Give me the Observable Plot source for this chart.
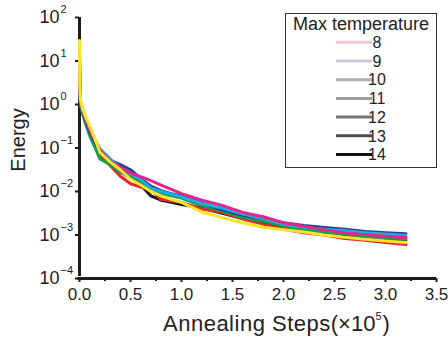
<!DOCTYPE html>
<html>
<head>
<meta charset="utf-8">
<script src="https://cdn.jsdelivr.net/npm/d3@7"></script>
<script src="https://cdn.jsdelivr.net/npm/@observablehq/plot@0.6"></script>
<style>
  html, body { margin: 0; padding: 0; background: #fff; }
  #chart { width: 448px; height: 341px; }
</style>
</head>
<body>
<div id="chart"></div>
<script>
// Annealing steps (×10^5)
const steps = [0, 0.002, 0.01, 0.03, 0.06, 0.1, 0.15, 0.2, 0.3, 0.4, 0.5, 0.6, 0.7, 0.8, 0.9, 1.0, 1.2, 1.4, 1.6, 1.8, 2.0, 2.2, 2.4, 2.6, 2.8, 3.0, 3.2];

const seriesNames = ["8", "9", "10", "11", "12", "13", "14"];
const lineColors = ["#e6248c", "#2e3a92", "#19aee6", "#12a04e", "#1a1a1a", "#e8262b", "#fbe62a"];
const legendColors = ["#f2c6dc", "#c9ced8", "#abb0bc", "#9a9ea5", "#72767a", "#4a5150", "#111111"];
const drawOrder = ["12", "13", "11", "9", "10", "8", "14"];

const energy8  = [20, 2.82, 1.12, 0.759, 0.479, 0.263, 0.151, 0.0891, 0.0501, 0.0355, 0.0263, 0.0219, 0.0178, 0.0141, 0.0112, 0.00891, 0.00631, 0.00479, 0.00331, 0.00263, 0.00191, 0.00158, 0.00132, 0.00112, 0.00102, 0.000933, 0.000871];
const energy9  = [15.8, 2.51, 1.05, 0.708, 0.447, 0.240, 0.141, 0.0832, 0.0525, 0.0417, 0.0316, 0.0200, 0.0132, 0.0105, 0.00891, 0.00794, 0.00537, 0.00380, 0.00282, 0.00240, 0.00191, 0.00166, 0.00148, 0.00135, 0.00120, 0.00112, 0.00107];
const energy10 = [17.8, 2.63, 1.20, 0.794, 0.501, 0.282, 0.158, 0.0955, 0.0562, 0.0355, 0.0251, 0.0191, 0.0120, 0.0100, 0.00871, 0.00759, 0.00525, 0.00417, 0.00302, 0.00240, 0.00178, 0.00151, 0.00135, 0.00126, 0.00112, 0.00105, 0.000977];
const energy11 = [12.6, 2.24, 0.955, 0.603, 0.355, 0.191, 0.105, 0.0562, 0.0417, 0.0282, 0.0224, 0.0166, 0.0112, 0.00891, 0.00794, 0.00708, 0.00468, 0.00355, 0.00251, 0.00209, 0.00158, 0.00132, 0.00117, 0.00105, 0.000933, 0.000851, 0.000794];
const energy12 = [15.8, 2.40, 1.00, 0.661, 0.398, 0.224, 0.126, 0.0708, 0.0447, 0.0282, 0.0209, 0.0141, 0.00794, 0.00631, 0.00562, 0.00501, 0.00417, 0.00316, 0.00240, 0.00191, 0.00151, 0.00126, 0.00112, 0.00100, 0.000891, 0.000813, 0.000759];
const energy13 = [20, 2.51, 1.05, 0.661, 0.417, 0.240, 0.126, 0.0661, 0.0398, 0.0224, 0.0151, 0.0126, 0.0112, 0.00661, 0.00603, 0.00562, 0.00398, 0.00331, 0.00234, 0.00178, 0.00135, 0.00112, 0.00100, 0.000832, 0.000759, 0.000676, 0.000603];
const energy14 = [29.5, 3.16, 1.26, 0.794, 0.525, 0.316, 0.166, 0.0794, 0.0479, 0.0316, 0.0191, 0.0141, 0.0100, 0.00794, 0.00661, 0.00562, 0.00339, 0.00251, 0.00191, 0.00151, 0.00132, 0.00117, 0.00100, 0.000891, 0.000794, 0.000724, 0.000676];

const xTicks = [0, 0.5, 1.0, 1.5, 2.0, 2.5, 3.0, 3.5];
const xMinorTicks = [0.25, 0.75, 1.25, 1.75, 2.25, 2.75, 3.25];
const yTicks = [1e-4, 1e-3, 1e-2, 1e-1, 1e0, 1e1, 1e2];
const yExponents = ["−4", "−3", "−2", "−1", "0", "1", "2"];

const seriesValues = {"8": energy8, "9": energy9, "10": energy10, "11": energy11, "12": energy12, "13": energy13, "14": energy14};
const rows = [];
for (const name of drawOrder) {
  seriesValues[name].forEach((e, i) => rows.push({series: name, step: steps[i], energy: e}));
}

const font = "'Liberation Sans', Arial, Helvetica, sans-serif";
const ink = "#1c1c1c";

const chart = Plot.plot({
  width: 448,
  height: 341,
  marginLeft: 79,
  marginRight: 12,
  marginTop: 17,
  marginBottom: 63,
  style: {fontFamily: font, color: ink, background: "#fff"},
  x: {domain: [0, 3.5]},
  y: {type: "log", domain: [1e-4, 1e2]},
  color: {domain: seriesNames, range: lineColors},
  marks: [
    Plot.ruleX([0], {stroke: ink, strokeWidth: 3, y1: 1e-4, y2: 1e2, insetTop: -2}),
    Plot.ruleY([1e-4], {stroke: ink, strokeWidth: 3, insetLeft: -1.5}),
    Plot.axisX(xTicks, {tickSize: 4, tickPadding: 5, strokeWidth: 2, stroke: ink, tickFormat: d3.format(".1f"), fontSize: 17, fill: "#222", label: null}),
    Plot.axisX(xMinorTicks, {tickSize: 3, strokeWidth: 2, stroke: ink, tickFormat: () => "", label: null}),
    Plot.axisY(yTicks, {tickSize: 4, strokeWidth: 2, stroke: ink, tickFormat: () => "", label: null}),
    Plot.text(yTicks, {y: d => d, frameAnchor: "left", dx: -20, textAnchor: "end", text: () => "10", fontSize: 18, fill: "#222"}),
    Plot.text(yTicks, {y: d => d, frameAnchor: "left", dx: -19, dy: -8, textAnchor: "start", text: (d, i) => yExponents[i], fontSize: 11, fill: "#222"}),
    Plot.line(rows, {x: "step", y: "energy", z: "series", stroke: "series", strokeWidth: 3, strokeLinejoin: "round", strokeLinecap: "round"})
  ]
});

document.getElementById("chart").appendChild(chart);

const svg = d3.select(chart);

// Y axis title
svg.append("text")
  .attr("transform", "translate(25,140) rotate(-90)")
  .attr("text-anchor", "middle")
  .attr("font-family", font)
  .attr("font-size", 20)
  .attr("fill", "#222")
  .text("Energy");

// X axis title
const xt = svg.append("text")
  .attr("x", 163)
  .attr("y", 331)
  .attr("text-anchor", "start")
  .attr("font-family", font)
  .attr("font-size", 22)
  .attr("fill", "#222");
xt.append("tspan").attr("letter-spacing", "0.5px").text("Annealing Steps");
xt.append("tspan").text("(×10");
xt.append("tspan").attr("font-size", 11).attr("dy", -11).text("5");
xt.append("tspan").attr("dy", 11).attr("dx", 1).text(")");

// Legend
const lg = svg.append("g");
lg.append("rect")
  .attr("x", 285.5).attr("y", 13.5).attr("width", 151).attr("height", 154)
  .attr("fill", "#fff").attr("stroke", "#333").attr("stroke-width", 1);
lg.append("text")
  .attr("x", 361).attr("y", 30)
  .attr("text-anchor", "middle")
  .attr("font-family", font).attr("font-size", 18).attr("fill", "#222")
  .text("Max temperature");
seriesNames.forEach((name, i) => {
  const y = 42.3 + i * 18.7;
  lg.append("line")
    .attr("x1", 336).attr("x2", 372).attr("y1", y).attr("y2", y)
    .attr("stroke", legendColors[i]).attr("stroke-width", 3);
  lg.append("text")
    .attr("x", 377).attr("y", y).attr("dy", "0.36em")
    .attr("font-family", font).attr("font-size", 16).attr("fill", "#222")
    .text(name);
});
</script>
</body>
</html>
